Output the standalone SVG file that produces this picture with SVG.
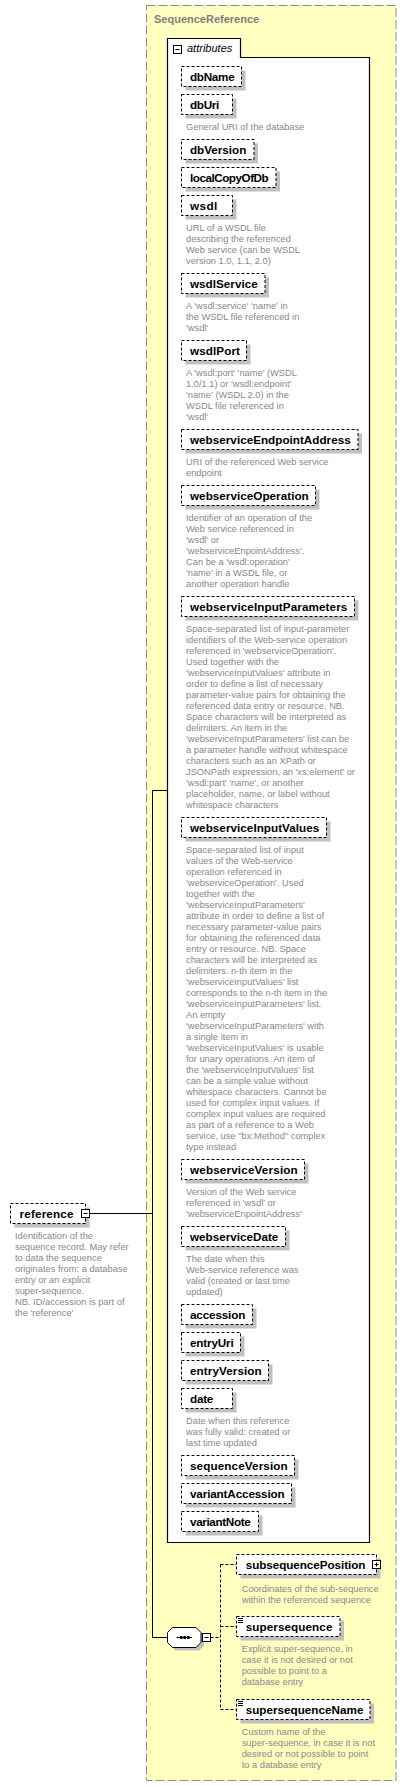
<svg xmlns="http://www.w3.org/2000/svg" width="406" height="1787" viewBox="0 0 406 1787">
<style>
.outer{fill:#ffffc0;stroke:#8a8a8a;stroke-width:1;stroke-dasharray:9,3}
.title{font-family:"Liberation Sans",Arial,sans-serif;font-weight:bold;font-size:11px;fill:#808080}
.attrbox{fill:#fff;stroke:#000;stroke-width:1.2}
.italic{font-family:"Liberation Sans",Arial,sans-serif;font-style:italic;font-size:11px;fill:#000}
.shadow{fill:#c0c0c0}
.box{fill:#fff;stroke:#000;stroke-width:1;stroke-dasharray:3,2}
.name{font-family:"Liberation Sans",Arial,sans-serif;font-weight:bold;font-size:11.7px;fill:#000}
.desc{font-family:"Liberation Sans",Arial,sans-serif;font-size:9.3px;fill:#888}
.icon{fill:#fff;stroke:#000;stroke-width:1}
.line{fill:none;stroke:#000;stroke-width:1}
.dline{fill:none;stroke:#000;stroke-width:1;stroke-dasharray:3,2}
</style>

<g id="SequenceReference">
<rect class="outer" x="146.5" y="5.5" width="249.5" height="1775"/>
<text class="title" x="154" y="23">SequenceReference</text>
</g>

<g id="attributes">
<path class="attrbox" d="M167.5,38.5 H240.5 V57.5 H369.5 V1542.5 H167.5 Z"/>
<rect class="icon" x="173.5" y="45.5" width="8" height="8"/>
<path class="line" d="M175.5,49.5 H179.5"/>
<text class="italic" x="187" y="52">attributes</text>
</g>

<g id="attr-dbName">
<rect class="shadow" x="185.5" y="70.5" width="60" height="20"/>
<rect class="box" x="181.5" y="66.5" width="60" height="20"/>
<text class="name" x="190" y="80.5" textLength="44.7">dbName</text>
</g>

<g id="attr-dbUri">
<rect class="shadow" x="185.5" y="98.5" width="51" height="20"/>
<rect class="box" x="181.5" y="94.5" width="51" height="20"/>
<text class="name" x="190" y="108.5" textLength="29.3">dbUri</text>
<text class="desc" x="186" y="130">General URI of the database</text>
</g>

<g id="attr-dbVersion">
<rect class="shadow" x="185.5" y="143.5" width="72.5" height="20"/>
<rect class="box" x="181.5" y="139.5" width="72.5" height="20"/>
<text class="name" x="190" y="153.5" textLength="56.3">dbVersion</text>
</g>

<g id="attr-localCopyOfDb">
<rect class="shadow" x="185.5" y="171.5" width="94.5" height="20"/>
<rect class="box" x="181.5" y="167.5" width="94.5" height="20"/>
<text class="name" x="190" y="181.5" textLength="78.7">localCopyOfDb</text>
</g>

<g id="attr-wsdl">
<rect class="shadow" x="185.5" y="199.5" width="51" height="20"/>
<rect class="box" x="181.5" y="195.5" width="51" height="20"/>
<text class="name" x="190" y="209.5" textLength="27.3">wsdl</text>
<text class="desc" x="186" y="231">URL of a WSDL file</text>
<text class="desc" x="186" y="242">describing the referenced</text>
<text class="desc" x="186" y="253">Web service (can be WSDL</text>
<text class="desc" x="186" y="264">version 1.0, 1.1, 2.0)</text>
</g>

<g id="attr-wsdlService">
<rect class="shadow" x="185.5" y="277.5" width="83.5" height="20"/>
<rect class="box" x="181.5" y="273.5" width="83.5" height="20"/>
<text class="name" x="190" y="287.5" textLength="67.7">wsdlService</text>
<text class="desc" x="186" y="309">A 'wsdl:service' 'name' in</text>
<text class="desc" x="186" y="320">the WSDL file referenced in</text>
<text class="desc" x="186" y="331">'wsdl'</text>
</g>

<g id="attr-wsdlPort">
<rect class="shadow" x="185.5" y="344.5" width="65" height="20"/>
<rect class="box" x="181.5" y="340.5" width="65" height="20"/>
<text class="name" x="190" y="354.5" textLength="50">wsdlPort</text>
<text class="desc" x="186" y="376">A 'wsdl:port' 'name' (WSDL</text>
<text class="desc" x="186" y="387">1.0/1.1) or 'wsdl:endpoint'</text>
<text class="desc" x="186" y="398">'name' (WSDL 2.0) in the</text>
<text class="desc" x="186" y="409">WSDL file referenced in</text>
<text class="desc" x="186" y="420">'wsdl'</text>
</g>

<g id="attr-webserviceEndpointAddress">
<rect class="shadow" x="185.5" y="433.5" width="176.5" height="20"/>
<rect class="box" x="181.5" y="429.5" width="176.5" height="20"/>
<text class="name" x="190" y="443.5" textLength="160.7">webserviceEndpointAddress</text>
<text class="desc" x="186" y="465">URI of the referenced Web service</text>
<text class="desc" x="186" y="476">endpoint</text>
</g>

<g id="attr-webserviceOperation">
<rect class="shadow" x="185.5" y="489.5" width="134" height="20"/>
<rect class="box" x="181.5" y="485.5" width="134" height="20"/>
<text class="name" x="190" y="499.5" textLength="118.7">webserviceOperation</text>
<text class="desc" x="186" y="521">Identifier of an operation of the</text>
<text class="desc" x="186" y="532">Web service referenced in</text>
<text class="desc" x="186" y="543">'wsdl' or</text>
<text class="desc" x="186" y="554">'webserviceEnpointAddress'.</text>
<text class="desc" x="186" y="565">Can be a 'wsdl:operation'</text>
<text class="desc" x="186" y="576">'name' in a WSDL file, or</text>
<text class="desc" x="186" y="587">another operation handle</text>
</g>

<g id="attr-webserviceInputParameters">
<rect class="shadow" x="185.5" y="600.5" width="173" height="20"/>
<rect class="box" x="181.5" y="596.5" width="173" height="20"/>
<text class="name" x="190" y="610.5" textLength="157.3">webserviceInputParameters</text>
<text class="desc" x="186" y="632">Space-separated list of input-parameter</text>
<text class="desc" x="186" y="643">identifiers of the Web-service operation</text>
<text class="desc" x="186" y="654">referenced in 'webserviceOperation'.</text>
<text class="desc" x="186" y="665">Used together with the</text>
<text class="desc" x="186" y="676">'webserviceInputValues' attribute in</text>
<text class="desc" x="186" y="687">order to define a list of necessary</text>
<text class="desc" x="186" y="698">parameter-value pairs for obtaining the</text>
<text class="desc" x="186" y="709">referenced data entry or resource. NB.</text>
<text class="desc" x="186" y="720">Space characters will be interpreted as</text>
<text class="desc" x="186" y="731">delimiters. An item in the</text>
<text class="desc" x="186" y="742">'webserviceInputParameters' list can be</text>
<text class="desc" x="186" y="753">a parameter handle without whitespace</text>
<text class="desc" x="186" y="764">characters such as an XPath or</text>
<text class="desc" x="186" y="775">JSONPath expression, an 'xs:element' or</text>
<text class="desc" x="186" y="786">'wsdl:part' 'name', or another</text>
<text class="desc" x="186" y="797">placeholder, name, or label without</text>
<text class="desc" x="186" y="808">whitespace characters</text>
</g>

<g id="attr-webserviceInputValues">
<rect class="shadow" x="185.5" y="821.5" width="145" height="20"/>
<rect class="box" x="181.5" y="817.5" width="145" height="20"/>
<text class="name" x="190" y="831.5" textLength="129.3">webserviceInputValues</text>
<text class="desc" x="186" y="853">Space-separated list of input</text>
<text class="desc" x="186" y="864">values of the Web-service</text>
<text class="desc" x="186" y="875">operation referenced in</text>
<text class="desc" x="186" y="886">'webserviceOperation'. Used</text>
<text class="desc" x="186" y="897">together with the</text>
<text class="desc" x="186" y="908">'webserviceInputParameters'</text>
<text class="desc" x="186" y="919">attribute in order to define a list of</text>
<text class="desc" x="186" y="930">necessary parameter-value pairs</text>
<text class="desc" x="186" y="941">for obtaining the referenced data</text>
<text class="desc" x="186" y="952">entry or resource. NB. Space</text>
<text class="desc" x="186" y="963">characters will be interpreted as</text>
<text class="desc" x="186" y="974">delimiters. n-th item in the</text>
<text class="desc" x="186" y="985">'webserviceInputValues' list</text>
<text class="desc" x="186" y="996">corresponds to the n-th item in the</text>
<text class="desc" x="186" y="1007">'webserviceInputParameters' list.</text>
<text class="desc" x="186" y="1018">An empty</text>
<text class="desc" x="186" y="1029">'webserviceInputParameters' with</text>
<text class="desc" x="186" y="1040">a single item in</text>
<text class="desc" x="186" y="1051">'webserviceInputValues' is usable</text>
<text class="desc" x="186" y="1062">for unary operations. An item of</text>
<text class="desc" x="186" y="1073">the 'webserviceInputValues' list</text>
<text class="desc" x="186" y="1084">can be a simple value without</text>
<text class="desc" x="186" y="1095">whitespace characters. Cannot be</text>
<text class="desc" x="186" y="1106">used for complex input values. If</text>
<text class="desc" x="186" y="1117">complex input values are required</text>
<text class="desc" x="186" y="1128">as part of a reference to a Web</text>
<text class="desc" x="186" y="1139">service, use "bx:Method" complex</text>
<text class="desc" x="186" y="1150">type instead</text>
</g>

<g id="attr-webserviceVersion">
<rect class="shadow" x="185.5" y="1163.5" width="123" height="20"/>
<rect class="box" x="181.5" y="1159.5" width="123" height="20"/>
<text class="name" x="190" y="1173.5" textLength="107.7">webserviceVersion</text>
<text class="desc" x="186" y="1195">Version of the Web service</text>
<text class="desc" x="186" y="1206">referenced in 'wsdl' or</text>
<text class="desc" x="186" y="1217">'webserviceEnpointAddress'</text>
</g>

<g id="attr-webserviceDate">
<rect class="shadow" x="185.5" y="1230.5" width="104" height="20"/>
<rect class="box" x="181.5" y="1226.5" width="104" height="20"/>
<text class="name" x="190" y="1240.5" textLength="88.3">webserviceDate</text>
<text class="desc" x="186" y="1262">The date when this</text>
<text class="desc" x="186" y="1273">Web-service reference was</text>
<text class="desc" x="186" y="1284">valid (created or last time</text>
<text class="desc" x="186" y="1295">updated)</text>
</g>

<g id="attr-accession">
<rect class="shadow" x="185.5" y="1308.5" width="71" height="20"/>
<rect class="box" x="181.5" y="1304.5" width="71" height="20"/>
<text class="name" x="190" y="1318.5" textLength="55.3">accession</text>
</g>

<g id="attr-entryUri">
<rect class="shadow" x="185.5" y="1336.5" width="59" height="20"/>
<rect class="box" x="181.5" y="1332.5" width="59" height="20"/>
<text class="name" x="190" y="1346.5" textLength="43.7">entryUri</text>
</g>

<g id="attr-entryVersion">
<rect class="shadow" x="185.5" y="1364.5" width="87" height="20"/>
<rect class="box" x="181.5" y="1360.5" width="87" height="20"/>
<text class="name" x="190" y="1374.5" textLength="71.7">entryVersion</text>
</g>

<g id="attr-date">
<rect class="shadow" x="185.5" y="1392.5" width="51" height="20"/>
<rect class="box" x="181.5" y="1388.5" width="51" height="20"/>
<text class="name" x="190" y="1402.5" textLength="23.3">date</text>
<text class="desc" x="186" y="1424">Date when this reference</text>
<text class="desc" x="186" y="1435">was fully valid: created or</text>
<text class="desc" x="186" y="1446">last time updated</text>
</g>

<g id="attr-sequenceVersion">
<rect class="shadow" x="185.5" y="1459.5" width="113" height="20"/>
<rect class="box" x="181.5" y="1455.5" width="113" height="20"/>
<text class="name" x="190" y="1469.5" textLength="97.7">sequenceVersion</text>
</g>

<g id="attr-variantAccession">
<rect class="shadow" x="185.5" y="1487.5" width="110" height="20"/>
<rect class="box" x="181.5" y="1483.5" width="110" height="20"/>
<text class="name" x="190" y="1497.5" textLength="94.7">variantAccession</text>
</g>

<g id="attr-variantNote">
<rect class="shadow" x="185.5" y="1515.5" width="77" height="20"/>
<rect class="box" x="181.5" y="1511.5" width="77" height="20"/>
<text class="name" x="190" y="1525.5" textLength="60.7">variantNote</text>
</g>

<g id="connectors">
<path class="line" d="M89.5,1213.5 H152.5"/>
<path class="line" d="M152.5,790.5 V1637.5"/>
<path class="line" d="M152.5,790.5 H167.5"/>
<path class="line" d="M152.5,1637.5 H167.5"/>
<path class="dline" d="M210.5,1637.5 H220.5"/>
<path class="dline" d="M220.5,1564.5 V1709.5"/>
<path class="dline" d="M220.5,1564.5 H236.5"/>
<path class="dline" d="M220.5,1626.5 H236.5"/>
<path class="dline" d="M220.5,1709.5 H236.5"/>
</g>

<g id="reference">
<rect class="shadow" x="14.5" y="1207.5" width="75" height="20"/>
<rect class="box" x="10.5" y="1203.5" width="75" height="20"/>
<text class="name" x="19.5" y="1217.5" textLength="54">reference</text>
<rect class="icon" x="81.5" y="1209.5" width="8" height="8"/>
<path class="line" d="M83.5,1213.5 H87.5"/>
<text class="desc" x="15" y="1239">Identification of the</text>
<text class="desc" x="15" y="1250">sequence record. May refer</text>
<text class="desc" x="15" y="1261">to data the sequence</text>
<text class="desc" x="15" y="1272">originates from: a database</text>
<text class="desc" x="15" y="1283">entry or an explicit</text>
<text class="desc" x="15" y="1294">super-sequence.</text>
<text class="desc" x="15" y="1305">NB. ID/accession is part of</text>
<text class="desc" x="15" y="1316">the 'reference'</text>
</g>

<g id="sequence">
<polygon class="shadow" points="175.5,1630.5 199,1630.5 204,1635.5 204,1645.5 199,1650.5 175.5,1650.5 170.5,1645.5 170.5,1635.5"/>
<polygon class="icon" points="172.5,1627.5 196,1627.5 201,1632.5 201,1642.5 196,1647.5 172.5,1647.5 167.5,1642.5 167.5,1632.5"/>
<path class="line" d="M176.5,1637.5 H192"/>
<rect x="180" y="1636" width="2.5" height="3" fill="#000"/>
<rect x="183.5" y="1636" width="2.5" height="3" fill="#000"/>
<rect x="187" y="1636" width="2.5" height="3" fill="#000"/>
<rect class="icon" x="202.5" y="1633.5" width="8" height="8"/>
<path class="line" d="M204.5,1637.5 H208.5"/>
</g>

<g id="subsequencePosition">
<rect class="shadow" x="240.5" y="1558.5" width="140" height="20"/>
<rect class="box" x="236.5" y="1554.5" width="140" height="20"/>
<text class="name" x="245.7" y="1569" textLength="119.7">subsequencePosition</text>
<rect class="icon" x="372.5" y="1560.5" width="8" height="8"/>
<path class="line" d="M374.5,1564.5 H378.5 M376.5,1562.5 V1566.5"/>
<text class="desc" x="241.7" y="1591.6">Coordinates of the sub-sequence</text>
<text class="desc" x="241.7" y="1602.6">within the referenced sequence</text>
</g>

<g id="supersequence">
<rect class="shadow" x="240.5" y="1620.5" width="103.5" height="20"/>
<rect class="box" x="236.5" y="1616.5" width="103.5" height="20"/>
<path class="line" d="M238,1618.5 H243 M238,1620.5 H243 M238,1622.5 H243"/>
<text class="name" x="245.7" y="1631" textLength="86.7">supersequence</text>
<text class="desc" x="241.7" y="1651.6">Explicit super-sequence, in</text>
<text class="desc" x="241.7" y="1662.6">case it is not desired or not</text>
<text class="desc" x="241.7" y="1673.6">possible to point to a</text>
<text class="desc" x="241.7" y="1684.6">database entry</text>
</g>

<g id="supersequenceName">
<rect class="shadow" x="240.5" y="1703.5" width="133.5" height="20"/>
<rect class="box" x="236.5" y="1699.5" width="133.5" height="20"/>
<path class="line" d="M238,1701.5 H243 M238,1703.5 H243 M238,1705.5 H243"/>
<text class="name" x="245.7" y="1713.8" textLength="117.7">supersequenceName</text>
<text class="desc" x="241.7" y="1734.6">Custom name of the</text>
<text class="desc" x="241.7" y="1745.6">super-sequence, in case it is not</text>
<text class="desc" x="241.7" y="1756.6">desired or not possible to point</text>
<text class="desc" x="241.7" y="1767.6">to a database entry</text>
</g>
</svg>
